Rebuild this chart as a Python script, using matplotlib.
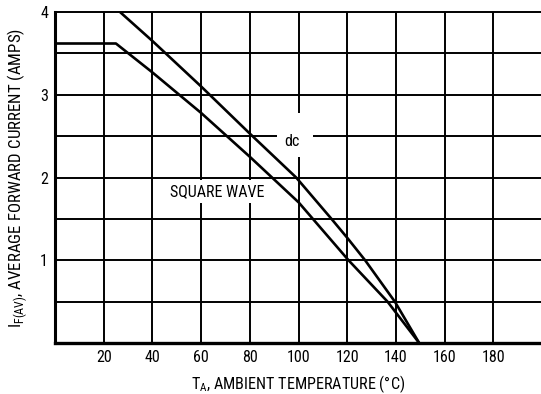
import matplotlib
matplotlib.use('Agg')
import matplotlib.pyplot as plt
from matplotlib.patches import Rectangle

# derating curves
sq_temp = [0, 25, 40, 60, 80, 100, 120.5, 136.5, 149.5]
sq_curr = [3.62, 3.62, 3.27, 2.78, 2.25, 1.70, 1.0, 0.5, 0.0]

dc_temp = [26.7, 40, 60, 80, 99, 113.5, 120, 127.3, 139.5, 149.5]
dc_curr = [4.0, 3.65, 3.10, 2.53, 2.0, 1.5, 1.27, 1.0, 0.5, 0.0]

x_ticks = [20, 40, 60, 80, 100, 120, 140, 160, 180]
y_ticks = [1, 2, 3, 4]

plt.rcParams['font.family'] = ['Roboto Condensed', 'DejaVu Sans']

fig = plt.figure(figsize=(5.41, 3.94), dpi=100)
ax = fig.add_axes([0.1017, 0.1294, 0.8983, 0.840])

# grid: every 20 degC, every 0.5 A
for t in x_ticks:
    ax.axvline(t, color='black', lw=1.4, zorder=1)
for i in range(1, 8):
    ax.axhline(i * 0.5, color='black', lw=1.4, zorder=1)

ax.plot(sq_temp, sq_curr, color='black', lw=1.9, zorder=4, solid_capstyle='butt')
ax.plot(dc_temp, dc_curr, color='black', lw=1.9, zorder=4, solid_capstyle='butt')

# curve labels, white patches break the grid like the original
ax.add_patch(Rectangle((91.2, 2.25), 14.8, 0.53, facecolor='white', edgecolor='none', zorder=2))
ax.text(97.3, 2.43, 'dc', fontsize=11.5, ha='center', va='center', zorder=3)
ax.text(66.5, 1.83, 'SQUARE WAVE', fontsize=11.5, ha='center', va='center', zorder=3,
        bbox=dict(facecolor='white', edgecolor='none', pad=3))

ax.set_xlim(0, 199.5)
ax.set_ylim(0, 4)
ax.set_xticks(x_ticks)
ax.set_yticks(y_ticks)
ax.tick_params(length=0, labelsize=11.5, pad=5)

ax.spines['right'].set_visible(False)
ax.spines['top'].set_linewidth(1.4)
ax.spines['left'].set_linewidth(2.2)
ax.spines['bottom'].set_linewidth(2.4)

ax.set_xlabel(r'T$_{\mathregular{A}}$, AMBIENT TEMPERATURE (°C)', fontsize=11.6, labelpad=6)
ax.set_ylabel(r'I$_{\mathregular{F(AV)}}$, AVERAGE FORWARD CURRENT (AMPS)', fontsize=12.2, labelpad=7)

fig.savefig('out.png', dpi=100)
